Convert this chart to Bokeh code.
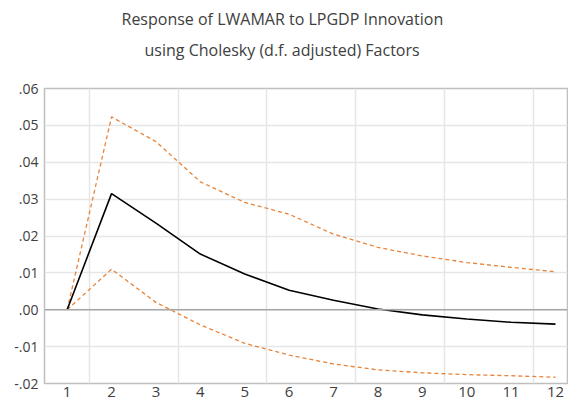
from bokeh.plotting import figure
from bokeh.models import FixedTicker, CustomJSTickFormatter, Title, Span, Range1d
from bokeh.embed import file_html
from bokeh.resources import INLINE

periods = list(range(1, 13))
response = [0.0, 0.0315, 0.0235, 0.0151, 0.0097, 0.0053, 0.0026, 0.0002, -0.0014, -0.0025, -0.0034, -0.0039]
upper = [0.0, 0.0523, 0.0456, 0.0347, 0.0291, 0.0259, 0.0205, 0.0169, 0.0146, 0.0128, 0.0115, 0.0103]
lower = [0.0, 0.0110, 0.0020, -0.0041, -0.0091, -0.0123, -0.0147, -0.0163, -0.0171, -0.0176, -0.0179, -0.0183]
y_ticks = [-0.02, -0.01, 0.0, 0.01, 0.02, 0.03, 0.04, 0.05, 0.06]
x_grid = [1.5, 3.5, 5.5, 7.5, 9.5, 11.5]
title_lines = ["Response of LWAMAR to LPGDP Innovation",
               "using Cholesky (d.f. adjusted) Factors"]

FONT = "Open Sans"
TXT = "#404040"
ORANGE = "#E8833A"

p = figure(width=568, height=404, output_backend="svg", toolbar_location=None,
           x_range=Range1d(0.49, 12.27), y_range=Range1d(-0.02, 0.06),
           min_border_top=88, min_border_bottom=21, min_border_left=44, min_border_right=1)
p.outline_line_color = "#bfbfbf"
p.outline_line_width = 1.5
p.background_fill_color = "white"
p.border_fill_color = "white"

p.xaxis.ticker = FixedTicker(ticks=periods)
p.yaxis.ticker = FixedTicker(ticks=y_ticks)
p.yaxis.formatter = CustomJSTickFormatter(code="""
const s = tick.toFixed(2);
return s.replace('0.', '.');
""")
for ax in (p.xaxis[0], p.yaxis[0]):
    ax.axis_line_color = None
    ax.major_tick_line_color = None
    ax.minor_tick_line_color = None
    ax.major_tick_out = 0
    ax.major_tick_in = 0
    ax.major_label_text_font = FONT
    ax.major_label_text_color = TXT
p.xaxis.major_label_text_font_size = "15px"
p.yaxis.major_label_text_font_size = "14px"
p.xaxis.major_label_standoff = 3
p.yaxis.major_label_standoff = 6

p.xgrid.ticker = FixedTicker(ticks=x_grid)
p.ygrid.ticker = FixedTicker(ticks=y_ticks)
p.xgrid.grid_line_color = "#e6e6e6"
p.ygrid.grid_line_color = "#e6e6e6"
p.xgrid.grid_line_width = 1.5
p.ygrid.grid_line_width = 1.5

p.add_layout(Span(location=0, dimension="width", line_color="#a6a6a6", line_width=1.5))

p.line(periods, upper, line_color=ORANGE, line_width=1.3, line_dash="4 3")
p.line(periods, lower, line_color=ORANGE, line_width=1.3, line_dash="4 3")
p.line(periods, response, line_color="black", line_width=1.6)

# titles: spacer closest to frame, then line 2, then line 1
p.add_layout(Title(text=" ", text_font_size="1px", standoff=22), "above")
p.add_layout(Title(text=title_lines[1], align="left", offset=100, standoff=6,
                   vertical_align="bottom", text_font=FONT, text_font_size="16px",
                   text_font_style="normal", text_color=TXT), "above")
p.add_layout(Title(text=title_lines[0], align="left", offset=77, standoff=8,
                   vertical_align="bottom", text_font=FONT, text_font_size="16px",
                   text_font_style="normal", text_color=TXT), "above")

open("out.html", "w").write(file_html(p, INLINE))
